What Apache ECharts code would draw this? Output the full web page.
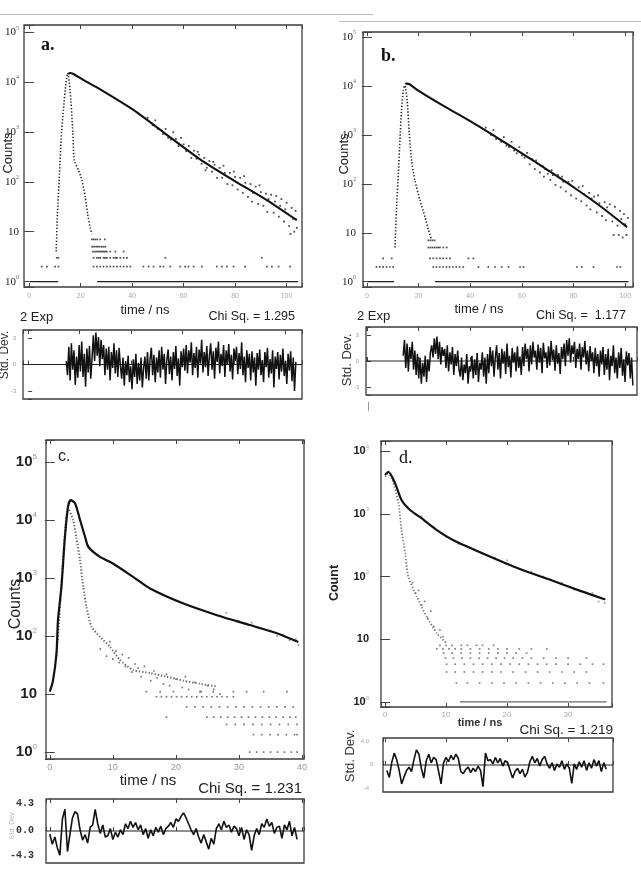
<!DOCTYPE html>
<html>
<head>
<meta charset="utf-8">
<script src="https://cdn.jsdelivr.net/npm/echarts@6/dist/echarts.min.js"></script>
<style>
  html, body { margin: 0; padding: 0; background: #fff; }
  #main { width: 641px; height: 877px; }
</style>
</head>
<body>
<div id="main"></div>
<script>
// ---------- data (time in ns, counts) ----------

// panel a
const aDecay = [[15.2, 14500], [15.9, 15100], [17, 14600], [21, 11000], [27.6, 7100], [40.5, 2750],
  [53.5, 870], [66.4, 282], [79.4, 107], [92.3, 43], [104, 17]];
const aIrf = [[10.5, 4], [11, 23], [11.8, 150], [12.4, 690], [13.3, 2750], [14.3, 9500], [15, 15100],
  [15.9, 6900], [17, 950], [17.5, 270], [19.2, 170], [20.5, 108], [21.8, 49], [22.7, 23], [23.7, 12], [24.4, 9]];
const aBase = [[0.4, 11.3], [26.4, 104.5]];
const aDotRows = [
  [2, [4.9, 6.9, 10.1, 11.4, 25, 26.3, 27.6, 28.9, 30.2, 31.5, 32.8, 34.1, 35.4, 36.7, 38, 39.3, 44.4, 46.4, 48.3,
       50.9, 52.2, 54.8, 58.7, 60.6, 61.9, 63.9, 67.1, 72.9, 74.9, 76.8, 79.4, 83.9, 92.4, 94.3, 96.9, 101.4]],
  [3, [10.7, 11.4, 25, 26.3, 27, 27.6, 28.9, 29.5, 30.2, 31.5, 32.8, 33.5, 34.1, 35.4, 36.7, 38, 52.9, 90.4]],
  [4, [24.8, 25.6, 26.3, 27, 27.6, 28.3, 28.9, 29.5, 30.2, 31.5, 33.5, 36.7]],
  [5, [24.5, 25.2, 26, 26.7, 27.4, 28.2, 28.9, 29.6]],
  [7, [24.4, 25.1, 25.8, 26.5, 27.6, 29.4]]
];
const aTail = [[46, 1900], [48, 1350], [49, 1700], [50, 1150], [52, 900], [53, 1150], [54, 760], [55, 700],
  [56, 980], [57, 720], [58, 520], [59, 760], [60, 560], [61, 410], [62, 520], [63, 300], [64, 420], [65, 290],
  [65.5, 400], [66, 350], [67, 230], [68, 300], [68.5, 170], [69, 190], [70, 260], [71, 160], [71.5, 250],
  [72, 220], [73, 120], [74, 190], [75, 120], [75.5, 210], [76, 150], [77, 90], [78, 150], [79, 85], [79.5, 160],
  [80, 125], [81, 70], [82, 120], [83, 60], [83.5, 130], [84, 95], [85, 50], [86, 90], [86.5, 40], [87, 60],
  [88, 80], [89, 36], [89.5, 85], [90, 62], [91, 33], [92, 58], [92.5, 25], [93, 45], [94, 55], [95, 24],
  [95.5, 40], [96, 52], [97, 20], [97.5, 33], [98, 45], [99, 16], [99.5, 28], [100, 38], [101, 13], [101.5, 9],
  [102, 30], [102.5, 18], [103, 10], [103.5, 26], [104, 12]];
const aResSpan = [14.8, 104];
const aRes = [
  0.4, -1.2, 2.0, -1.8, 2.4, -0.6, 1.6, -2.3, 0.9, -1.5, 2.2,
  -0.8, 2.6, -1.4, 1.2, -2.5, 1.8, -0.9, 2.1, -1.6, 0.7,
  3.3, 0.4, 3.6, 1.0, 3.1, -0.2, 2.8, 0.6,
  2.2, -1.2, 1.8, -0.6, 2.0, -1.8, 1.4, -0.4, 2.4, -1.0, 1.6, -1.4, 1.9, -0.2,
  -1.6, 0.8, -2.4, 0.4, -1.2, 1.0, -2.0, -0.2, -2.8, 0.6, -1.4, 1.2, -2.2, 0.2, -1.8, 0.8, -2.6, -0.4, 0.9, -1.6,
  1.4, -1.8, 0.6, 1.9, -1.2, 1.1, -2.0, 0.8, -0.9, 1.6, -1.5, 2.0, -0.6, 1.2, -2.2, 0.5, 1.7, -1.1, 0.9, -1.8,
  1.4, -0.5, 2.1, -1.3, 0.7, -2.4, 1.5, -0.3,
  1.8, -0.7, 2.2, -1.0, 1.6, 0.2, 2.5, -1.2, 1.3, -0.4, 2.0, -1.5, 1.7, 0.1, 2.8, -0.9, 1.4, -0.3, 2.1, -1.3,
  1.0, 2.4, -0.6, 1.5, -1.6, 1.9, 0.3, 2.6, -1.0, 1.2, -0.2, 2.2, -1.4, 1.6, 0.0, 2.3, -0.8, 1.1, -1.7, 1.8,
  0.4, 2.0, -1.1, 1.3, -0.5, 2.5, -1.2, 0.9, -2.0, 1.6,
  -0.4, 1.2, -1.8, 1.5, -0.9, 0.8, -2.4, 1.3, -0.6, 1.7, -1.2, 0.5, -2.0, 1.4, -0.3, 1.9, -1.5, 0.6, -1.0, 1.6,
  -2.6, 0.9, -0.5, 1.4, -1.7, 1.1, -0.8, 1.8, -1.3, 0.4, -2.2, 1.2, -0.7, 1.5, -1.9, 0.8, -3.0, 0.3
];

// panel b
const bDecay = [[14.9, 10800], [15.4, 11200], [16.5, 10800], [20.5, 7600], [30, 3800], [40, 1900], [50, 900],
  [60, 420], [70, 190], [80, 85], [90, 36], [100.7, 13]];
const bIrf = [[10.9, 5], [11.5, 34], [12.2, 166], [12.8, 776], [13.4, 3160], [14.1, 8100], [14.7, 10200],
  [15.6, 5100], [16.4, 1070], [17.3, 300], [18.6, 117], [20.5, 47], [22.5, 21], [23.8, 11.5], [25.1, 7]];
const bBase = [[0.3, 10.5], [26.4, 101.3]];
const bDotRows = [
  [2, [3.7, 5, 6.3, 7.6, 8.9, 10.2, 25.7, 26.9, 28.2, 29.5, 30.8, 32, 33.3, 34.6, 35.9, 37.3, 43.2, 47, 49.6,
       52.2, 54.8, 59.3, 60.6, 81.3, 83.2, 87.7, 96.8, 98.1]],
  [3, [6.3, 9.6, 24.4, 25.7, 27, 28.3, 29.5, 30.8, 32.2, 39.3, 41.2]],
  [5, [23.8, 24.6, 25.4, 26.2, 27, 27.7, 28.3, 29.6, 30.9]],
  [7, [23.8, 24.6, 25.4, 26.2]]
];
const bTail = [[46, 1400], [48, 1000], [49, 1250], [50, 820], [52, 720], [53, 900], [54, 600], [55, 560],
  [56, 720], [57, 480], [58, 420], [59, 560], [60, 380], [61, 340], [62, 430], [63, 250], [64, 320], [65, 200],
  [65.5, 300], [66, 260], [67, 170], [68, 230], [68.5, 140], [69, 200], [70, 160], [71, 120], [71.5, 190],
  [72, 150], [73, 95], [74, 150], [75, 85], [75.5, 140], [76, 110], [77, 70], [78, 110], [79, 58], [79.5, 115],
  [80, 85], [81, 50], [82, 85], [83, 44], [83.5, 90], [84, 62], [85, 36], [86, 65], [86.5, 30], [87, 50],
  [88, 55], [89, 26], [89.5, 58], [90, 40], [91, 22], [92, 42], [92.5, 18], [93, 33], [94, 38], [95, 17],
  [95.5, 9], [96, 34], [97, 14], [97.5, 9], [98, 28], [98.5, 19], [99, 8], [99.5, 24], [100, 15], [100.5, 9],
  [101, 20]];
const bResSpan = [14, 103];
const bRes = [
  0.6, 2.4, -0.8, 2.0, -1.2, 1.6, 0.2, 2.2, -1.0, 1.2, -1.6, 0.8,
  -2.0, 0.4, -2.6, -0.2, -1.8, 0.6, -2.4, 0.2, -1.2, 1.0,
  1.8, 0.4, 2.6, 0.8, 2.8, 0.2, 2.2, -0.4, 1.6, 0.6,
  1.4, -0.8, 1.8, -1.2, 1.0, -0.4, 1.6, -1.6, 0.8, -0.6, 1.2, -1.0,
  -1.8, 0.4, -2.2, -0.4, -1.4, 0.8, -2.6, -0.6, -1.2, 0.6, -2.0, 0.2, -1.6, 0.9, -2.4, -0.2, -1.0, 1.0, -1.8, 0.4,
  -2.6, 0.8, -1.4, 1.6, -0.6, 1.2, -1.8, 0.4, 1.8, -1.0, 0.9, -2.0, 1.4, -0.3, 1.1, -1.5, 2.0, -0.7, 0.6, -1.9,
  1.5, -0.2, 1.0, -1.2, 1.7, -0.8, 0.5, -1.6,
  1.6, -0.6, 2.0, 0.2, 1.4, -1.2, 1.8, -0.4, 2.2, 0.4, 1.2, -1.0, 1.9, -0.2, 1.5, -1.4, 2.1, 0.3, 1.0, -0.8,
  1.7, -0.5, 2.3, 0.1, 1.3, -1.1, 1.8, -0.3, 0.9, -1.5, 1.6, 0.2, 2.0, -0.6,
  2.4, 0.6, 2.6, -0.2, 1.8, 0.8, 2.2, -0.8, 1.4, 0.2, 2.0, -1.0, 1.6, 0.4, 2.3, -0.4, 1.2, -1.2, 1.7, 0.0,
  1.0, -1.4, 1.5, -0.6, 0.8, -1.8,
  1.2, -0.4, 1.6, -1.6, 0.8, -1.0, 1.4, -2.2, 0.6, -0.6, 1.8, -1.4, 0.4, -2.0, 1.0, -0.8, 1.5, -1.7, 0.2, -2.4,
  1.1, -0.5, 0.9, -2.0, 0.4, -2.8
];

// panel c
const cDecay = [[0, 11], [0.5, 17], [1.06, 50], [1.3, 190], [1.85, 710], [2.4, 5100], [2.9, 17000], [3.3, 22000],
  [4.0, 19500], [4.8, 10000], [5.6, 5100], [6.1, 3470], [7.9, 2340], [10, 1780], [13.2, 1050], [15.9, 660],
  [21.2, 363], [26.5, 229], [31.7, 155], [36, 112], [39.4, 79]];
const cIrf = [[1.0, 40], [1.5, 200], [2.0, 1500], [2.5, 8000], [2.9, 16000], [3.7, 10000], [4.2, 5100], [4.8, 2040],
  [5.3, 710], [5.8, 324], [6.6, 145], [7.9, 98], [9.5, 66], [11.1, 39], [13.2, 26], [15.9, 23], [18.5, 20],
  [21.2, 17], [23.8, 15], [26.5, 13.5]];
const cDotRows = [
  [11, [15.3, 17.5, 19.6, 23.8, 25.9, 29.1, 31.2, 33.9, 37.6]],
  [9, [16.9, 17.7, 18.5, 19.3, 20.1, 20.9, 21.7, 22.5, 23.3, 24.1, 24.9, 25.7, 26.5, 27.3, 28.1, 29.1]],
  [6, [21.7, 23, 24.3, 25.6, 26.9, 28.2, 29.5, 30.8, 32.1, 33.4, 34.7, 36, 37.3, 38.6]],
  [4, [18.5, 24.9, 26, 27.1, 28.2, 29.3, 30.4, 31.5, 32.6, 33.7, 34.8, 35.9, 37, 38.1, 39]],
  [3, [28, 29.4, 30.8, 32.2, 33.6, 35, 36.4, 37.8, 39.2]],
  [2, [32.3, 33.6, 34.9, 36.2, 37.5, 38.8, 39.2]],
  [1, [31.7, 32.8, 33.9, 35, 36.1, 37.2, 38.3, 39.2]]
];
const cBand = [[8, 60], [9, 45], [9.5, 80], [10, 40], [10.5, 55], [11, 35], [11.5, 48], [12, 30], [12.5, 42],
  [13, 24], [13.5, 33], [14, 28], [14.5, 20], [15, 30], [16, 17], [16.5, 25], [17, 19], [18, 15], [18.5, 22],
  [19, 14], [20, 18], [21, 13], [21.5, 20], [22, 12], [23, 16], [24, 11], [25, 14], [26, 12], [27, 10]];
const cTail = [[28, 250], [30, 180], [32, 170], [33, 140], [35, 125], [36, 100], [37, 105], [38, 85], [39, 90], [39.4, 70]];
const cResSpan = [0, 39.2];
const cRes = [
  -0.5, -2.2, -1.0, -2.8, -4.0, 2.0, 3.6, -3.4, -0.5, 2.2, 3.2, 2.8, 0.2, -1.5, -0.6, -2.0, 0.6, 1.0, 3.6, 1.2,
  -0.4, 1.0, -1.0,
  -0.8, 0.4, -1.4, -0.2, -1.0, 0.2, -0.6,
  1.2, 0.4, 1.6, 0.6, 1.4, 0.2, 1.0,
  -0.6, 0.4, -1.2, 0.2, -0.8, 0.6,
  -0.2, 0.8, -0.6, 0.4,
  0.8, 1.4, 0.6, 2.0, 1.6, 2.4, 3.0, 2.2,
  1.2, 0.2, -0.6, 0.4,
  -1.0, -2.0, -0.6, -1.8, -3.0, -1.2, -2.2,
  0.4, 1.2, 0.2, 1.6, 0.6, 1.0, -0.2, 0.8,
  0.4, -0.8, 0.6, -1.4, 0.2, -0.6, -3.2, -0.8, 0.4, -0.6,
  1.2, 0.6, 2.0, 0.8, 1.4, -0.4, 0.6,
  0.8, -1.2, 1.0, 0.2, 1.6, -0.8, 0.6, -1.4
];

// panel d
const dDecay = [[0, 4170], [0.55, 4680], [1.64, 3090], [2.7, 1660], [4.1, 1150], [5.7, 890], [8.5, 550],
  [11.2, 380], [16.7, 219], [22.1, 132], [27.6, 85], [32, 59], [36.1, 43]];
const dIrf = [[0, 3900], [0.5, 4400], [1.2, 3500], [2.2, 1480], [2.7, 550], [3.3, 234], [3.8, 100], [5.2, 48],
  [6.8, 23], [8.5, 12.4], [10.1, 8.6]];
const dBase = [[12.3, 36.3]];
const dDotRows = [
  [8, [9, 10, 11, 12.5, 13.5, 15, 16, 17.8]],
  [7, [8.5, 9.5, 10.5, 11.5, 12.5, 14, 15.5, 17, 18.5, 20, 22, 24, 26.5]],
  [6, [9.6, 11, 12.5, 14, 15.5, 17, 18.5, 20, 21.5, 23.2]],
  [5, [9.9, 11.2, 12.6, 14, 15.4, 16.8, 18.2, 19.6, 21, 22.5, 24, 26, 28, 30, 33]],
  [4, [10.1, 11.5, 13, 14.5, 16, 17.5, 19, 20.5, 22, 23.5, 25, 26.5, 28, 30, 32, 34, 35.8]],
  [3, [10.1, 11.5, 13, 14.5, 16, 17.5, 19, 21, 23, 25, 27, 29, 31, 33]],
  [2, [11.7, 13.5, 15.5, 17.5, 19.5, 21.5, 23.5, 25.5, 27.5, 29.5, 31.5, 33.5, 35.8]]
];
const dBand = [[4.5, 80], [5, 55], [5.5, 60], [6, 35], [6.5, 40], [7, 22], [7.5, 28], [8, 16], [9, 14], [9.5, 11]];
const dTail = [[6, 900], [8, 620], [10, 430], [12, 330], [14, 290], [18, 200], [20, 180], [24, 120], [26, 100],
  [29, 80], [31, 62], [34, 55], [35, 40], [36, 38]];
const dResSpan = [0.3, 36.3];
const dRes = [
  -1.0, -2.3, 0.5, 2.2, 1.0, -1.0, -3.5, -2.2, -1.0, -0.4, -1.2, 1.0, 2.8, 2.0, -0.6, -2.4,
  0.8, 2.0, 0.4, 1.4, 1.0, -1.2, -3.5,
  0.4, 1.4, 0.6, 1.8, 1.0, 2.0, 1.2,
  -1.2, -1.6, -0.8,
  -0.4, -1.4, -0.6, -1.2, -0.2, -1.0,
  -4.0, 2.2, 0.8,
  1.0, 0.2, 1.4, 0.4, 1.2, -0.2, 0.8, 0.4,
  -1.0, -2.4, -1.2, -0.6, -1.6, -0.8, -2.2, -1.4,
  0.6, 1.6, 0.4, 1.2, -0.2, 1.0, 1.6, 0.2,
  -0.6, 0.4, -1.0, 0.2, -0.4, 0.8, -0.8, 0.2,
  -0.6, -3.4, 0.2, -0.8, 0.6, -0.4, 0.8, -1.0,
  0.4, -0.6, 1.0, -0.2, 0.8, -1.2, 0.4, -0.8
];

// ---------- layout ----------
const boxes = {
  aMain: { left: 24, top: 25, width: 278, height: 262 },
  aRes:  { left: 23, top: 330, width: 279, height: 69 },
  bMain: { left: 363, top: 32, width: 270, height: 255 },
  bRes:  { left: 366, top: 327, width: 271, height: 68 },
  cMain: { left: 46, top: 440, width: 258, height: 319 },
  cRes:  { left: 46, top: 799, width: 258, height: 64 },
  dMain: { left: 381, top: 441, width: 231, height: 266 },
  dRes:  { left: 383, top: 738, width: 230, height: 54 }
};

const grid = [], xAxis = [], yAxis = [], series = [];

function addGrid(box) {
  grid.push(Object.assign({
    show: true, borderColor: '#3c3c3c', borderWidth: 1.3, backgroundColor: 'transparent',
    containLabel: false, outerBoundsMode: 'none'
  }, box));
  return grid.length - 1;
}

function addX(gi, range, pos, label) {
  const step = range[2];
  xAxis.push({
    type: 'value', gridIndex: gi, min: range[0], max: range[1], position: pos,
    splitLine: { show: false }, axisLine: { show: false },
    axisTick: { show: true, inside: true, length: 4, lineStyle: { color: '#444' } },
    axisLabel: label ? Object.assign({
      show: true, hideOverlap: false,
      formatter: v => (Math.abs(v % step) < 1e-6 ? String(Math.round(v)) : '')
    }, label) : { show: false }
  });
  return xAxis.length - 1;
}

function powLabel(v) {
  const l = Math.log10(v);
  const e = Math.round(l);
  if (Math.abs(l - e) > 1e-6) return '';
  return e === 1 ? '{b|10}' : '{b|10}{s|' + e + '}';
}

function addLogY(gi, range, pos, label) {
  yAxis.push({
    type: 'log', logBase: 10, gridIndex: gi, min: range[0], max: range[1], position: pos,
    splitLine: { show: false }, axisLine: { show: false },
    axisTick: { show: true, inside: true, length: 5, lineStyle: { color: '#444' } },
    axisLabel: label ? Object.assign({ show: true, hideOverlap: false, formatter: powLabel }, label) : { show: false }
  });
  return yAxis.length - 1;
}

function addLinY(gi, range, label) {
  yAxis.push({
    type: 'value', gridIndex: gi, min: range[0], max: range[1], splitNumber: 2,
    splitLine: { show: false }, axisLine: { show: false },
    axisTick: { show: !!label, inside: true, length: 4, lineStyle: { color: '#444' } },
    axisLabel: label ? Object.assign({
      show: true, hideOverlap: false,
      formatter: v => (Math.abs(v % range[2]) < 1e-6 ? String(Math.round(v)) : '')
    }, label) : { show: false }
  });
  return yAxis.length - 1;
}

function rowsToPoints(rows) {
  const out = [];
  rows.forEach(([n, ts]) => ts.forEach(t => out.push([t, n])));
  return out;
}

// residual channels are evenly spaced in time across the measured span
function resPoints(vals, span) {
  const dt = (span[1] - span[0]) / (vals.length - 1);
  return vals.map((v, i) => [span[0] + i * dt, v]);
}

function mainPanel(p) {
  const gi = addGrid(p.box);
  const xi = addX(gi, p.x, 'bottom', p.xLabel);
  addX(gi, p.x, 'top', null);
  const yi = addLogY(gi, p.y, 'left', p.yLabel);
  addLogY(gi, p.y, 'right', null);
  const ax = { xAxisIndex: xi, yAxisIndex: yi, silent: true, animation: false };
  p.base.forEach(seg => series.push(Object.assign({
    type: 'line', data: [[seg[0], 1], [seg[1], 1]], showSymbol: false,
    lineStyle: { color: p.dotColor, width: 1.3 }
  }, ax)));
  series.push(Object.assign({
    type: 'scatter', data: rowsToPoints(p.dots).concat(p.band || []), symbol: 'rect', symbolSize: 1.7,
    itemStyle: { color: p.dotColor }
  }, ax));
  series.push(Object.assign({
    type: 'scatter', data: p.tail, symbol: 'rect', symbolSize: 1.8, itemStyle: { color: p.tailColor }
  }, ax));
  series.push(Object.assign({
    type: 'line', data: p.irf, showSymbol: false, smooth: 0.2,
    lineStyle: { color: p.irfColor, width: p.irfWidth, type: [1.3, 1.9] }
  }, ax));
  series.push(Object.assign({
    type: 'line', data: p.decay, showSymbol: false, smooth: 0.25,
    lineStyle: { color: '#111', width: p.decayWidth }
  }, ax));
}

function resPanel(p) {
  const gi = addGrid(p.box);
  const xi = addX(gi, p.x, 'bottom', null);
  addX(gi, p.x, 'top', null);
  const yi = addLinY(gi, p.y, p.yLabel);
  const ax = { xAxisIndex: xi, yAxisIndex: yi, silent: true, animation: false };
  series.push(Object.assign({
    type: 'line', data: [[p.x[0], 0], [p.x[1], 0]], showSymbol: false,
    lineStyle: { color: '#222', width: 1 }
  }, ax));
  series.push(Object.assign({
    type: 'line', data: resPoints(p.res, p.span), showSymbol: false,
    lineStyle: { color: '#111', width: p.width }
  }, ax));
}

const serifTick = {
  rich: {
    b: { fontSize: 11, fontFamily: 'Liberation Serif', color: '#222', lineHeight: 14 },
    s: { fontSize: 6, fontFamily: 'Liberation Serif', color: '#666', verticalAlign: 'top' }
  }
};
const faintX = { fontSize: 7, color: '#aaa', fontFamily: 'Liberation Sans', margin: 6 };

mainPanel({
  box: boxes.aMain, x: [-2, 106, 20], y: [0.78, 138000],
  xLabel: faintX, yLabel: Object.assign({ margin: 5 }, serifTick),
  decay: aDecay, irf: aIrf, base: aBase, dots: aDotRows, tail: aTail,
  dotColor: '#222', tailColor: '#222', irfColor: '#222', irfWidth: 1.6, decayWidth: 2.1
});
resPanel({
  box: boxes.aRes, x: [-2, 106.4, 20], y: [-3.9, 3.9, 3], span: aResSpan, res: aRes, width: 1.5,
  yLabel: { fontSize: 6, color: '#999', margin: 7 }
});

mainPanel({
  box: boxes.bMain, x: [-1.5, 103, 20], y: [0.78, 126000],
  xLabel: faintX, yLabel: Object.assign({ margin: 7 }, serifTick),
  decay: bDecay, irf: bIrf, base: bBase, dots: bDotRows, tail: bTail,
  dotColor: '#222', tailColor: '#222', irfColor: '#222', irfWidth: 1.6, decayWidth: 2.1
});
resPanel({
  box: boxes.bRes, x: [-0.4, 104.6, 20], y: [-3.9, 3.9, 3], span: bResSpan, res: bRes, width: 1.5,
  yLabel: { fontSize: 6, color: '#999', margin: 7 }
});

mainPanel({
  box: boxes.cMain, x: [-0.6, 40.3, 10], y: [0.76, 240000],
  xLabel: { fontSize: 9, color: '#999', fontFamily: 'Liberation Sans', margin: 4 },
  yLabel: {
    margin: 9,
    rich: {
      b: { fontSize: 15, fontWeight: 'bold', fontFamily: 'Liberation Sans', color: '#222', lineHeight: 18 },
      s: { fontSize: 8, fontFamily: 'Liberation Sans', color: '#999', verticalAlign: 'top' }
    }
  },
  decay: cDecay, irf: cIrf, base: [], dots: cDotRows, band: cBand, tail: cTail,
  dotColor: '#555', tailColor: '#888', irfColor: '#666', irfWidth: 2, decayWidth: 2.2
});
resPanel({
  box: boxes.cRes, x: [-0.6, 40.3, 10], y: [-5.3, 5.3, 100], span: cResSpan, res: cRes, width: 1.6,
  yLabel: null
});

mainPanel({
  box: boxes.dMain, x: [-0.66, 37.2, 10], y: [0.83, 14500],
  xLabel: { fontSize: 8, color: '#aaa', fontFamily: 'Liberation Sans', margin: 4 },
  yLabel: {
    margin: 12,
    rich: {
      b: { fontSize: 11, fontWeight: 'bold', fontFamily: 'Liberation Sans', color: '#222', lineHeight: 14 },
      s: { fontSize: 6, fontFamily: 'Liberation Sans', color: '#aaa', verticalAlign: 'top' }
    }
  },
  decay: dDecay, irf: dIrf, base: dBase, dots: dDotRows, band: dBand, tail: dTail,
  dotColor: '#666', tailColor: '#999', irfColor: '#777', irfWidth: 1.8, decayWidth: 2.2
});
resPanel({
  box: boxes.dRes, x: [-0.33, 37.4, 10], y: [-5, 5, 100], span: dResSpan, res: dRes, width: 1.6,
  yLabel: null
});

// ---------- texts ----------
const sans = '"Liberation Sans", Arial, sans-serif';
const serif = '"Liberation Serif", "Times New Roman", serif';
const texts = [
  ['a.', 41, 45, 'bold 18px ' + serif, '#111', 'left', 0],
  ['Counts', 8, 153, '13px ' + sans, '#222', 'center', 90],
  ['time / ns', 145, 310, '13px ' + sans, '#222', 'center', 0],
  ['2 Exp', 20, 317, '13px ' + sans, '#222', 'left', 0],
  ['Chi Sq. = 1.295', 295, 317, '12.5px ' + sans, '#222', 'right', 0],
  ['Std. Dev.', 5, 355, '12px ' + sans, '#333', 'center', 90],

  ['b.', 381, 56, 'bold 18px ' + serif, '#111', 'left', 0],
  ['Counts', 344, 154, '13px ' + sans, '#222', 'center', 90],
  ['time / ns', 479, 309, '13px ' + sans, '#222', 'center', 0],
  ['2 Exp', 357, 316, '13px ' + sans, '#222', 'left', 0],
  ['Chi Sq. =  1.177', 626, 316, '12.5px ' + sans, '#222', 'right', 0],
  ['Std. Dev.', 347, 360, '13px ' + sans, '#333', 'center', 90],

  ['c.', 58, 457, '16px ' + sans, '#222', 'left', 0],
  ['Counts', 16, 604, '16px ' + sans, '#222', 'center', 90],
  ['time / ns', 148, 781, '15px ' + sans, '#222', 'center', 0],
  ['Chi Sq. = 1.231', 302, 789, '15px ' + sans, '#222', 'right', 0],
  ['4.3', 34, 803, 'bold 10px "Liberation Mono", monospace', '#333', 'right', 0],
  ['0.0', 34, 830, 'bold 10px "Liberation Mono", monospace', '#333', 'right', 0],
  ['-4.3', 34, 855, 'bold 10px "Liberation Mono", monospace', '#333', 'right', 0],
  ['Std. Dev.', 12, 825, '7px ' + sans, '#bbb', 'center', 90],

  ['d.', 399, 458, '18px ' + serif, '#111', 'left', 0],
  ['Count', 335, 583, 'bold 12.5px ' + sans, '#222', 'center', 90],
  ['time / ns', 480, 723, 'bold 11px ' + sans, '#333', 'center', 0],
  ['Chi Sq. = 1.219', 613, 730, '13.5px ' + sans, '#222', 'right', 0],
  ['4.0', 369, 741, '6px ' + sans, '#aaa', 'right', 0],
  ['0', 373, 764, '6px ' + sans, '#aaa', 'right', 0],
  ['-4', 369, 788, '6px ' + sans, '#aaa', 'right', 0],
  ['Std. Dev.', 350, 756, '13px ' + sans, '#333', 'center', 90]
];

const graphic = texts.map(([t, x, y, font, fill, align, rot]) => ({
  type: 'text', x, y, rotation: rot * Math.PI / 180, silent: true,
  style: { text: t, font, fill, align, verticalAlign: 'middle' }
}));
// faint rules at the top of the page and a stray mark under panel b
graphic.push(
  { type: 'line', silent: true, shape: { x1: 0, y1: 14.5, x2: 373, y2: 14.5 }, style: { stroke: '#bbb', lineWidth: 1 } },
  { type: 'line', silent: true, shape: { x1: 339, y1: 21.5, x2: 641, y2: 21.5 }, style: { stroke: '#bbb', lineWidth: 1 } },
  { type: 'line', silent: true, shape: { x1: 368.5, y1: 402, x2: 368.5, y2: 411 }, style: { stroke: '#999', lineWidth: 1 } }
);

const chart = echarts.init(document.getElementById('main'), null, { renderer: 'canvas' });
chart.setOption({
  animation: false,
  backgroundColor: '#fff',
  grid, xAxis, yAxis, series, graphic
});
</script>
</body>
</html>
